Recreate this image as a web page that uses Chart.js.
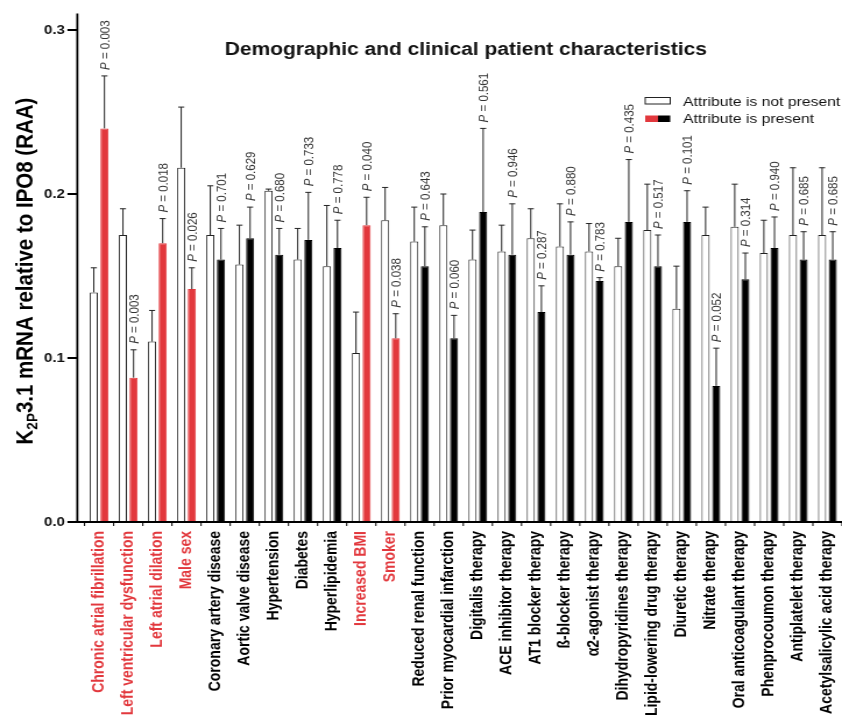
<!DOCTYPE html>
<html>
<head>
<meta charset="utf-8">
<title>K2P3.1 mRNA – demographic and clinical patient characteristics</title>
<script src="https://cdn.jsdelivr.net/npm/chart.js@4.4.1/dist/chart.umd.min.js"></script>
<style>
  html, body { margin: 0; padding: 0; background: #fff; overflow: hidden; }
  #chart { display: block; }
</style>
</head>
<body>
<!-- the figure is horizontally stretched, so the canvas is drawn narrow and shown wide -->
<canvas id="chart" width="723" height="723" style="width:842px;height:723px"></canvas>
<script>
const categories = [
  'Chronic atrial fibrillation', 'Left ventricular dysfunction', 'Left atrial dilation', 'Male sex',
  'Coronary artery disease', 'Aortic valve disease', 'Hypertension', 'Diabetes', 'Hyperlipidemia',
  'Increased BMI', 'Smoker', 'Reduced renal function', 'Prior myocardial infarction',
  'Digitalis therapy', 'ACE inhibitor therapy', 'AT1 blocker therapy', 'ß-blocker therapy',
  'α2-agonist therapy', 'Dihydropyridines therapy', 'Lipid-lowering drug therapy',
  'Diuretic therapy', 'Nitrate therapy', 'Oral anticoagulant therapy', 'Phenprocoumon therapy',
  'Antiplatelet therapy', 'Acetylsalicylic acid therapy'
];
// significant attributes (red)
const highlighted = [0, 1, 2, 3, 9, 10];

const notPresentMean = [0.140, 0.175, 0.110, 0.216, 0.175, 0.157, 0.202, 0.160, 0.156, 0.103, 0.184, 0.171, 0.181,
                        0.160, 0.165, 0.173, 0.168, 0.165, 0.156, 0.178, 0.130, 0.175, 0.180, 0.164, 0.175, 0.175];
const notPresentSem  = [0.015, 0.016, 0.019, 0.037, 0.030, 0.024, 0.001, 0.019, 0.037, 0.025, 0.020, 0.021, 0.019,
                        0.018, 0.016, 0.018, 0.026, 0.017, 0.017, 0.028, 0.026, 0.017, 0.026, 0.020, 0.041, 0.041];
const presentMean    = [0.240, 0.088, 0.170, 0.142, 0.160, 0.173, 0.163, 0.172, 0.167, 0.181, 0.112, 0.156, 0.112,
                        0.189, 0.163, 0.128, 0.163, 0.147, 0.183, 0.156, 0.183, 0.083, 0.148, 0.167, 0.160, 0.160];
const presentSem     = [0.032, 0.017, 0.015, 0.013, 0.019, 0.019, 0.016, 0.029, 0.017, 0.017, 0.015, 0.024, 0.014,
                        0.051, 0.031, 0.016, 0.020, 0.002, 0.038, 0.019, 0.019, 0.023, 0.016, 0.019, 0.017, 0.017];
const pValues = ['0.003', '0.003', '0.018', '0.026', '0.701', '0.629', '0.680', '0.733', '0.778', '0.040', '0.038',
                 '0.643', '0.060', '0.561', '0.946', '0.287', '0.880', '0.783', '0.435', '0.517', '0.101', '0.052',
                 '0.314', '0.940', '0.685', '0.685'];
const yTicks = [0, 0.1, 0.2, 0.3];

const RED = '#e2383d';
const FONT = "'Liberation Sans', Arial, Helvetica, sans-serif";

const presentColors = categories.map((_, i) => highlighted.includes(i) ? RED : '#000');

const decorPlugin = {
  id: 'decor',
  afterDatasetsDraw(chart) {
    const ctx = chart.ctx;
    const x = chart.scales.x;
    const y = chart.scales.y;
    const area = chart.chartArea;
    const sems = [notPresentSem, presentSem];
    ctx.save();

    // error bars (upper only) + P values above the "present" bar
    chart.data.datasets.forEach((ds, di) => {
      chart.getDatasetMeta(di).data.forEach((bar, i) => {
        const top = y.getPixelForValue(ds.data[i] + sems[di][i]);
        ctx.strokeStyle = '#222';
        ctx.lineWidth = 1;
        ctx.beginPath();
        ctx.moveTo(bar.x, bar.y);
        ctx.lineTo(bar.x, top);
        ctx.moveTo(bar.x - 2.6, top);
        ctx.lineTo(bar.x + 2.6, top);
        ctx.stroke();

        if (di === 1) {
          ctx.save();
          ctx.translate(bar.x + 1, top - 6);
          ctx.rotate(-Math.PI / 2);
          ctx.textAlign = 'left';
          ctx.textBaseline = 'middle';
          ctx.fillStyle = '#333';
          ctx.font = 'italic 11.5px ' + FONT;
          ctx.fillText('P', 0, 0);
          const w = ctx.measureText('P').width;
          ctx.font = '11.5px ' + FONT;
          ctx.fillText(' = ' + pValues[i], w, 0);
          ctx.restore();
        }
      });
    });

    // axes drawn by hand: y axis sits a little left of the first bar
    const axisX = area.left - 6.2;
    ctx.strokeStyle = '#000';
    ctx.lineWidth = 1.8;
    ctx.beginPath();
    ctx.moveTo(axisX, area.top);
    ctx.lineTo(axisX, area.bottom + 0.9);
    ctx.moveTo(axisX - 0.9, area.bottom);
    ctx.lineTo(area.right, area.bottom);
    yTicks.forEach(v => {
      const py = y.getPixelForValue(v);
      ctx.moveTo(axisX - 8.5, py);
      ctx.lineTo(axisX, py);
    });
    ctx.stroke();

    // small ticks between categories
    const slot = (area.right - area.left) / categories.length;
    ctx.lineWidth = 1;
    ctx.beginPath();
    for (let i = 0; i <= categories.length; i++) {
      const px = x.getPixelForValue(i) - slot / 2;
      ctx.moveTo(px, area.bottom);
      ctx.lineTo(px, area.bottom + 4);
    }
    ctx.stroke();
    ctx.restore();
  },
  afterDraw(chart) {
    const ctx = chart.ctx;
    ctx.save();

    // title
    ctx.fillStyle = '#111';
    ctx.textAlign = 'center';
    ctx.textBaseline = 'alphabetic';
    ctx.font = 'bold 18px ' + FONT;
    ctx.fillText('Demographic and clinical patient characteristics', 400, 55);

    // y axis title with subscript
    ctx.save();
    ctx.translate(20.4, 271);
    ctx.rotate(-Math.PI / 2);
    const parts = [
      { t: 'K', f: 'bold 20.5px ' + FONT, dy: 0 },
      { t: '2P', f: 'bold 13.5px ' + FONT, dy: 4.5 },
      { t: '3.1 mRNA relative to IPO8 (RAA)', f: 'bold 20.5px ' + FONT, dy: 0 }
    ];
    let total = 0;
    parts.forEach(p => { ctx.font = p.f; p.w = ctx.measureText(p.t).width; total += p.w; });
    let cx = -total / 2;
    ctx.textAlign = 'left';
    ctx.fillStyle = '#000';
    parts.forEach(p => {
      ctx.font = p.f;
      ctx.fillText(p.t, cx, 7.3 + p.dy);
      cx += p.w;
    });
    ctx.restore();

    // legend
    ctx.lineWidth = 1;
    ctx.strokeStyle = '#222';
    ctx.fillStyle = '#fff';
    ctx.fillRect(554, 97.5, 21.5, 6.5);
    ctx.strokeRect(554, 97.5, 21.5, 6.5);
    ctx.fillStyle = RED;
    ctx.fillRect(554, 115.5, 11, 6.5);
    ctx.fillStyle = '#000';
    ctx.fillRect(565, 115.5, 10.5, 6.5);
    ctx.fillStyle = '#111';
    ctx.textAlign = 'left';
    ctx.font = '13.5px ' + FONT;
    ctx.fillText(chart.data.datasets[0].label, 586.5, 105.5);
    ctx.fillText(chart.data.datasets[1].label, 586.5, 123);

    ctx.restore();
  }
};

new Chart(document.getElementById('chart'), {
  type: 'bar',
  data: {
    labels: categories,
    datasets: [
      {
        label: 'Attribute is not present',
        data: notPresentMean,
        backgroundColor: '#fff',
        borderColor: '#222',
        borderWidth: 1,
        categoryPercentage: 0.73,
        barPercentage: 0.76,
      },
      {
        label: 'Attribute is present',
        data: presentMean,
        backgroundColor: presentColors,
        borderColor: presentColors,
        borderWidth: 1,
        categoryPercentage: 0.73,
        barPercentage: 0.76,
      },
    ],
  },
  options: {
    responsive: false,
    devicePixelRatio: 1,
    animation: false,
    layout: { padding: { top: 13.6, right: 0, bottom: 0, left: 0 } },
    plugins: {
      legend: { display: false },
      tooltip: { enabled: false },
    },
    scales: {
      x: {
        grid: { display: false, drawTicks: false },
        border: { display: false },
        ticks: {
          autoSkip: false,
          minRotation: 90,
          maxRotation: 90,
          padding: 9,
          color: c => highlighted.includes(c.index) ? RED : '#000',
          font: { family: FONT, size: 14, weight: 'bold' },
        },
        afterFit(scale) {
          scale.height = 201;
          scale.paddingLeft = 0;
          scale.paddingRight = 0;
        },
      },
      y: {
        min: 0,
        max: 0.31,
        grid: { display: false, drawTicks: false },
        border: { display: false },
        ticks: {
          padding: 16.8,
          color: '#111',
          font: { family: FONT, size: 13, weight: 'bold' },
          callback: v => Number(v).toFixed(1),
        },
        afterBuildTicks(scale) {
          scale.ticks = yTicks.map(v => ({ value: v }));
        },
        afterFit(scale) {
          scale.width = 72.6;
          scale.paddingTop = 0;
          scale.paddingBottom = 0;
        },
      },
    },
  },
  plugins: [decorPlugin],
});
</script>
</body>
</html>
